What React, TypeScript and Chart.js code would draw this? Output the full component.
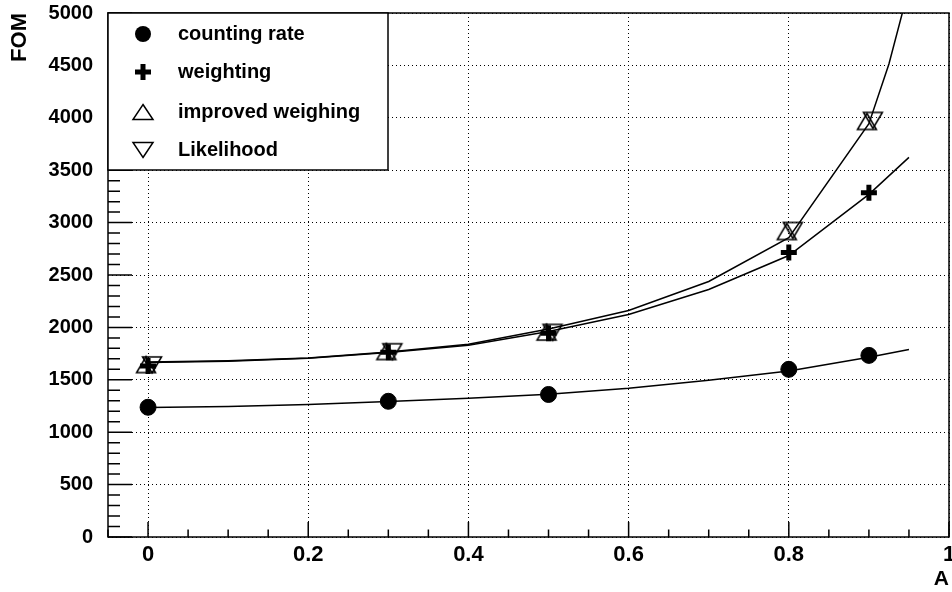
import React, { useEffect, useRef } from "react";
import { Chart, registerables } from "chart.js";

Chart.register(...registerables);

// Measured points
const xPoints = [0, 0.3, 0.5, 0.8, 0.9];
const countingRate = [1238, 1295, 1360, 1600, 1733];
const weighting = [1632, 1762, 1945, 2714, 3286];
const improvedWeighing = [1645, 1770, 1955, 2915, 3965];
const likelihood = [1642, 1768, 1952, 2925, 3975];

// Fitted curves (sampled)
const fitX = [0, 0.1, 0.2, 0.3, 0.4, 0.5, 0.6, 0.7, 0.8, 0.9, 0.95];
const countingFit = [1235, 1245, 1265, 1292, 1325, 1362, 1419, 1495, 1585, 1715, 1790];
const weightingFit = [1665, 1678, 1705, 1760, 1830, 1960, 2124, 2362, 2686, 3270, 3622];
const likelihoodFitX = [0, 0.1, 0.2, 0.3, 0.4, 0.5, 0.6, 0.7, 0.8, 0.9, 0.925, 0.95];
const likelihoodFit = [1670, 1682, 1707, 1765, 1840, 1985, 2162, 2438, 2857, 3943, 4514, 5240];

// Axes
const xMin = -0.05;
const xMax = 1.0;
const yMin = 0;
const yMax = 5000;
const xTicks = [0, 0.2, 0.4, 0.6, 0.8, 1];
const xTickLabels = ["0", "0.2", "0.4", "0.6", "0.8", "1"];
const yTicks = [0, 500, 1000, 1500, 2000, 2500, 3000, 3500, 4000, 4500, 5000];
const xMinorStep = 0.05;
const yMinorStep = 100;
const xTitle = "A";
const yTitle = "FOM";

// Legend
const legendNames = ["counting rate", "weighting", "improved weighing", "Likelihood"];
const legendStyles = ["circle", "cross", "triangleUp", "triangleDown"];

const FONT = "'Liberation Sans', Arial, Helvetica, sans-serif";
const CANVAS_W = 962;
const CANVAS_H = 592;

function pts(xs: number[], ys: number[]) {
  return xs.map((x, i) => ({ x, y: ys[i] }));
}

function triPath(ctx: CanvasRenderingContext2D, x: number, y: number, up: boolean, hw = 9.5, hh = 8) {
  ctx.beginPath();
  if (up) {
    ctx.moveTo(x, y - hh);
    ctx.lineTo(x + hw, y + hh);
    ctx.lineTo(x - hw, y + hh);
  } else {
    ctx.moveTo(x, y + hh);
    ctx.lineTo(x + hw, y - hh);
    ctx.lineTo(x - hw, y - hh);
  }
  ctx.closePath();
}

function makeTriangleImage(up: boolean, dx: number) {
  const size = 34;
  const c = document.createElement("canvas");
  c.width = size;
  c.height = size;
  const ctx = c.getContext("2d")!;
  ctx.strokeStyle = "#000";
  ctx.lineWidth = 1.5;
  triPath(ctx, size / 2 + dx, size / 2, up);
  ctx.stroke();
  return c;
}

function drawMarker(ctx: CanvasRenderingContext2D, style: string, x: number, y: number) {
  ctx.save();
  ctx.strokeStyle = "#000";
  ctx.fillStyle = "#000";
  ctx.lineWidth = 1.5;
  if (style === "circle") {
    ctx.beginPath();
    ctx.arc(x, y, 8, 0, Math.PI * 2);
    ctx.fill();
  } else if (style === "cross") {
    ctx.fillRect(x - 8, y - 2.5, 16, 5);
    ctx.fillRect(x - 2.5, y - 8, 5, 16);
  } else if (style === "triangleUp") {
    triPath(ctx, x, y, true, 10, 7.5);
    ctx.stroke();
  } else if (style === "triangleDown") {
    triPath(ctx, x, y, false, 10, 7.5);
    ctx.stroke();
  }
  ctx.restore();
}

const framePlugin = {
  id: "rootFrame",
  beforeDatasetsDraw(chart: any) {
    const { ctx, chartArea } = chart;
    const xs = chart.scales.x;
    const ys = chart.scales.y;
    const { left, right, top, bottom } = chartArea;
    ctx.save();
    ctx.strokeStyle = "#000";
    ctx.lineWidth = 1.5;
    ctx.beginPath();
    const nx = Math.round((xMax - xMin) / xMinorStep);
    for (let i = 0; i <= nx; i++) {
      const v = xMin + i * xMinorStep;
      const px = xs.getPixelForValue(v);
      const isMajor = xTicks.some((t) => Math.abs(t - v) < 1e-6);
      const len = isMajor ? 15 : 7.5;
      ctx.moveTo(px, bottom);
      ctx.lineTo(px, bottom - len);
    }
    const ny = Math.round((yMax - yMin) / yMinorStep);
    for (let i = 0; i <= ny; i++) {
      const v = yMin + i * yMinorStep;
      const py = ys.getPixelForValue(v);
      const isMajor = yTicks.some((t) => Math.abs(t - v) < 1e-6);
      const len = isMajor ? 24 : 12;
      ctx.moveTo(left, py);
      ctx.lineTo(left + len, py);
    }
    ctx.stroke();
    ctx.lineWidth = 1.5;
    ctx.strokeRect(left, top, right - left, bottom - top);
    ctx.restore();
  },
  afterDraw(chart: any) {
    const { ctx, chartArea } = chart;
    const bx = chartArea.left;
    const by = chartArea.top;
    const bw = 280;
    const bh = 157;
    ctx.save();
    ctx.fillStyle = "#fff";
    ctx.fillRect(bx, by, bw, bh);
    ctx.strokeStyle = "#000";
    ctx.lineWidth = 1.5;
    ctx.strokeRect(bx, by, bw, bh);
    const rowY = [33, 71, 111, 149];
    ctx.font = `bold 20px ${FONT}`;
    ctx.fillStyle = "#000";
    ctx.textBaseline = "middle";
    ctx.textAlign = "left";
    legendNames.forEach((name, i) => {
      const cy = by + rowY[i] - 12;
      drawMarker(ctx, legendStyles[i], bx + 35, cy);
      ctx.fillStyle = "#000";
      ctx.fillText(name, bx + 70, cy);
    });
    ctx.restore();
  },
};

export default function App() {
  const ref = useRef<HTMLCanvasElement | null>(null);
  useEffect(() => {
    if (!ref.current) return;
    const lineStyle = {
      showLine: true,
      borderColor: "#000",
      borderWidth: 1.5,
      pointRadius: 0,
      pointHoverRadius: 0,
      tension: 0,
      fill: false,
    };
    const triUp = makeTriangleImage(true, -2);
    const triDown = makeTriangleImage(false, 4);
    const chart = new Chart(ref.current, {
      type: "scatter",
      data: {
        datasets: [
          { label: "counting fit", data: pts(fitX, countingFit), ...lineStyle },
          { label: "weighting fit", data: pts(fitX, weightingFit), ...lineStyle },
          { label: "likelihood fit", data: pts(likelihoodFitX, likelihoodFit), ...lineStyle },
          {
            label: legendNames[0],
            data: pts(xPoints, countingRate),
            pointStyle: "circle",
            pointRadius: 8,
            backgroundColor: "#000",
            borderColor: "#000",
            borderWidth: 1,
            showLine: false,
          },
          {
            label: legendNames[1],
            data: pts(xPoints, weighting),
            pointStyle: "cross",
            pointRadius: 8,
            backgroundColor: "#000",
            borderColor: "#000",
            borderWidth: 5,
            showLine: false,
          },
          {
            label: legendNames[2],
            data: pts(xPoints, improvedWeighing),
            pointStyle: triUp,
            pointRadius: 11,
            backgroundColor: "rgba(0,0,0,0)",
            borderColor: "#000",
            borderWidth: 1.5,
            showLine: false,
          },
          {
            label: legendNames[3],
            data: pts(xPoints, likelihood),
            pointStyle: triDown,
            pointRadius: 11,
            backgroundColor: "rgba(0,0,0,0)",
            borderColor: "#000",
            borderWidth: 1.5,
            showLine: false,
          } as any,
        ],
      },
      options: {
        animation: false,
        responsive: false,
        devicePixelRatio: 1,
        layout: { padding: { top: 12, right: 0, left: 0, bottom: 0 } },
        plugins: { legend: { display: false }, tooltip: { enabled: false } },
        events: [],
        scales: {
          x: {
            type: "linear",
            min: xMin,
            max: xMax,
            afterBuildTicks: (scale: any) => {
              scale.ticks = xTicks.map((v) => ({ value: v }));
            },
            afterFit: (scale: any) => {
              scale.height = 55;
              scale.paddingLeft = 0;
              scale.paddingRight = 0;
            },
            ticks: {
              autoSkip: false,
              maxRotation: 0,
              minRotation: 0,
              padding: 5,
              color: "#000",
              font: { family: FONT, size: 22, weight: "bold" },
              callback: (v: any) => {
                const i = xTicks.findIndex((t) => Math.abs(t - Number(v)) < 1e-9);
                return i >= 0 ? xTickLabels[i] : "";
              },
            },
            grid: { color: "#000", lineWidth: 1, drawTicks: false },
            border: { display: false, dash: [1, 3] },
            title: {
              display: true,
              text: xTitle,
              align: "end",
              color: "#000",
              font: { family: FONT, size: 21, weight: "bold" },
              padding: { top: 0, bottom: 0 },
            },
          },
          y: {
            type: "linear",
            min: yMin,
            max: yMax,
            afterBuildTicks: (scale: any) => {
              scale.ticks = yTicks.map((v) => ({ value: v }));
            },
            afterFit: (scale: any) => {
              scale.width = 108;
              scale.paddingTop = 0;
              scale.paddingBottom = 0;
            },
            ticks: {
              autoSkip: false,
              padding: 15,
              color: "#000",
              font: { family: FONT, size: 20, weight: "bold" },
              callback: (v: any) => String(v),
            },
            grid: { color: "#000", lineWidth: 1, drawTicks: false },
            border: { display: false, dash: [1, 3] },
            title: {
              display: true,
              text: yTitle,
              align: "end",
              color: "#000",
              font: { family: FONT, size: 22, weight: "bold" },
              padding: { top: 7, bottom: 0 },
            },
          },
        },
      } as any,
      plugins: [framePlugin],
    });
    return () => chart.destroy();
  }, []);
  return (
    <div style={{ position: "fixed", left: 0, top: 0, width: 952, height: 592, overflow: "hidden", background: "#fff" }}>
      <canvas ref={ref} width={CANVAS_W} height={CANVAS_H} style={{ width: CANVAS_W, height: CANVAS_H, display: "block" }} />
    </div>
  );
}
